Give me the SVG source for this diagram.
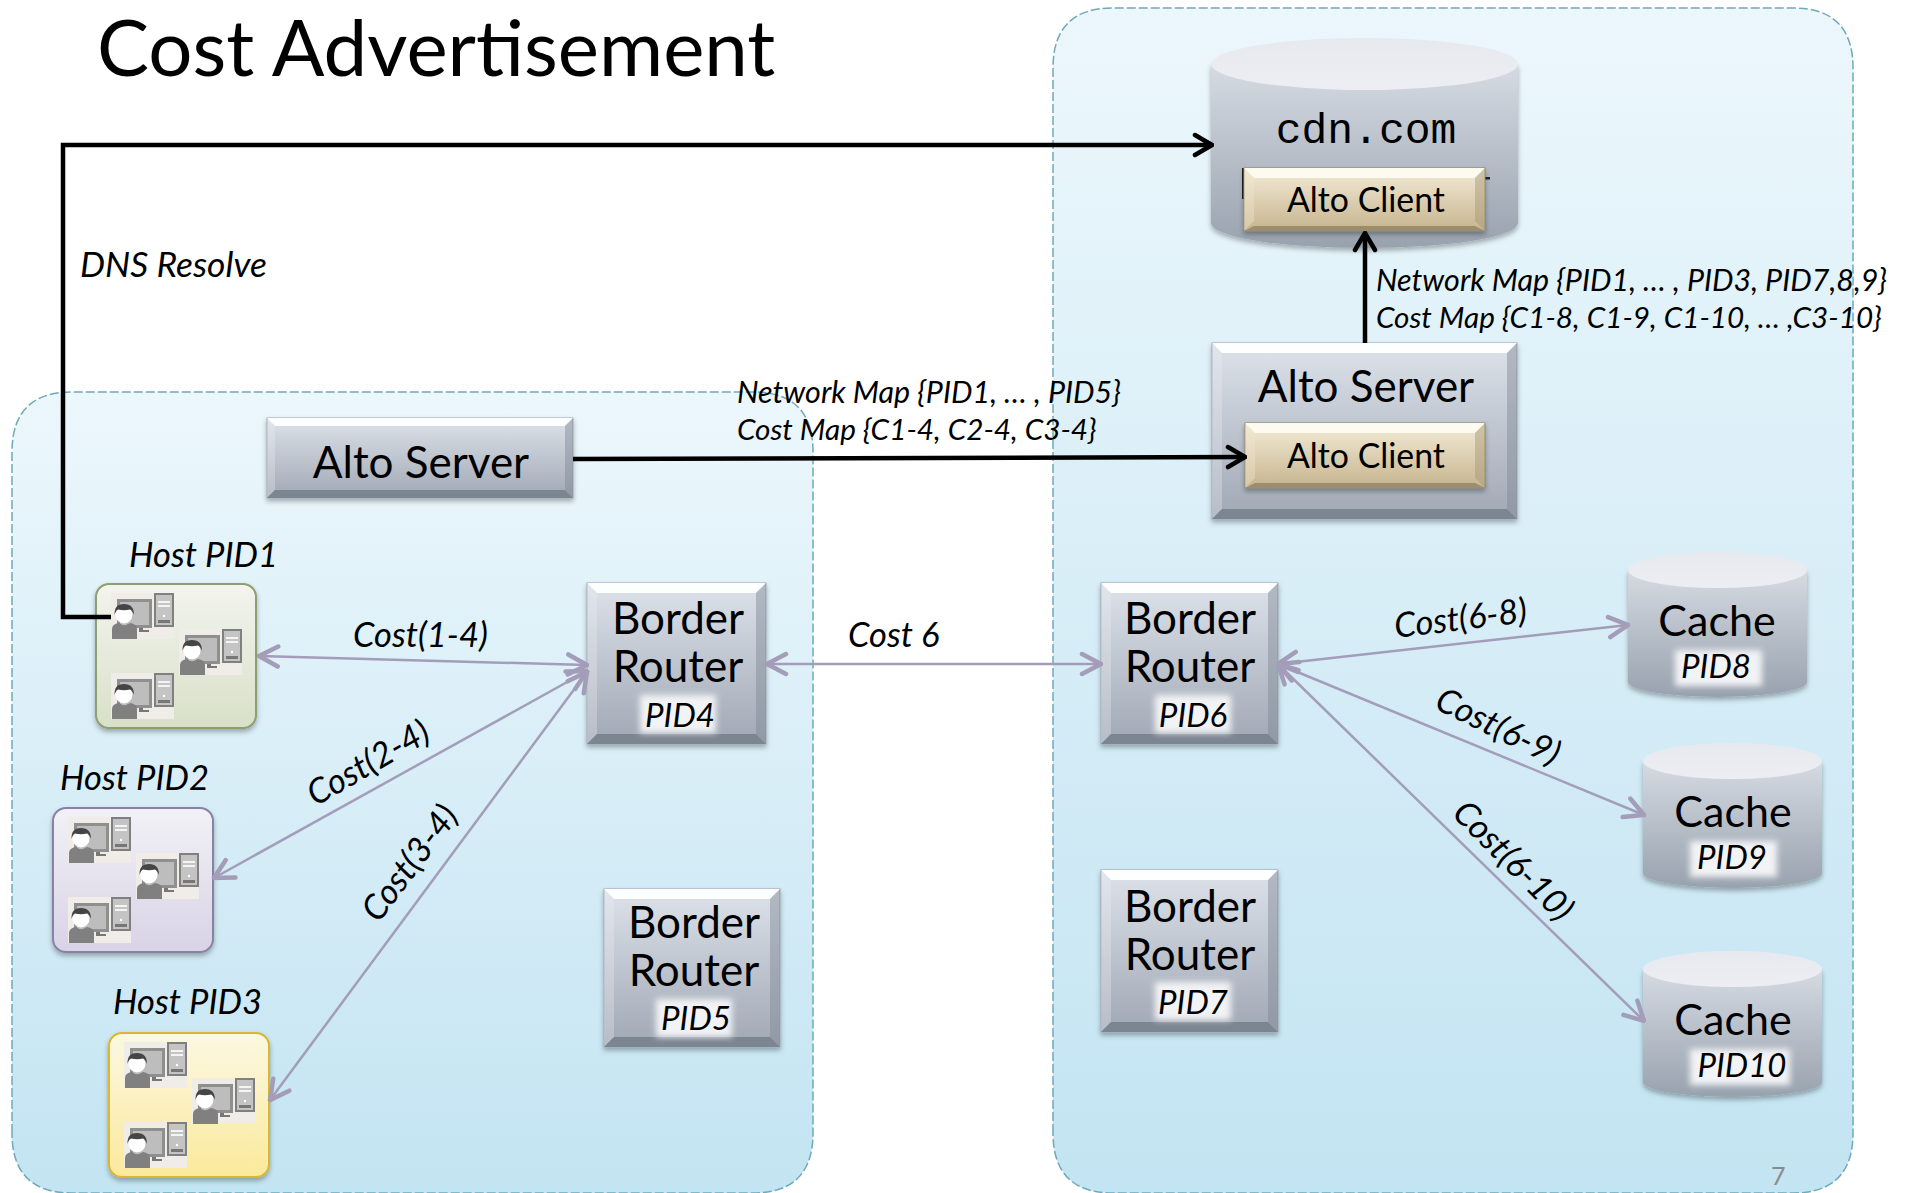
<svg xmlns="http://www.w3.org/2000/svg" width="1906" height="1193" viewBox="0 0 1906 1193">
<style>
text{font-family:Lato,"Open Sans","Liberation Sans",sans-serif;fill:#000}
.it{font-style:italic;font-size:34.5px}
.nm{font-style:italic;font-size:30.4px}
.cm{font-style:italic;font-size:29.7px}
.big{font-size:44px;text-anchor:middle}
.cache{font-size:43px;text-anchor:middle}
.pid{font-style:italic;font-size:33px;text-anchor:middle}
.ac{font-size:33.800px;text-anchor:middle}
.panel{fill:url(#panel);stroke:#6fa9ba;stroke-width:1.5;stroke-dasharray:9 3}
.k{fill:none;stroke:#000;stroke-width:4.500}
.p{fill:none;stroke:#a39db9;stroke-width:2.500}
.box{fill:url(#steel);stroke:#9aa5ad;stroke-width:1;filter:url(#sh)}
.gold{fill:url(#gold);stroke:#8c8468;stroke-width:1;filter:url(#sh)}
.side{fill:url(#cyl);filter:url(#sh)}
.top{fill:url(#cyltop)}
.lab{fill:#f2f3f5;filter:url(#soft)}
.hl{fill:#fff;opacity:.95}
.dr{fill:#7e8894;opacity:.45}
.lt{fill:#eef0f4;opacity:.3}
.bt{fill:#7c8592}
</style>
<defs>
<linearGradient id="panel" x1="0" y1="0" x2="0" y2="1"><stop offset="0" stop-color="#ecf7fc"/><stop offset="1" stop-color="#c3e4f2"/></linearGradient>
<linearGradient id="steel" x1="0" y1="0" x2="0" y2="1"><stop offset="0" stop-color="#dde2ea"/><stop offset="1" stop-color="#a0a8b4"/></linearGradient>
<linearGradient id="gold" x1="0" y1="0" x2="0" y2="1"><stop offset="0" stop-color="#f4ecd8"/><stop offset="1" stop-color="#c6b48e"/></linearGradient>
<linearGradient id="cyl" x1="0" y1="0" x2="0" y2="1"><stop offset="0" stop-color="#d6dbe3"/><stop offset="1" stop-color="#98a2ae"/></linearGradient>
<linearGradient id="cyltop" x1="0" y1="0" x2="0" y2="1"><stop offset="0" stop-color="#e6e9ee"/><stop offset="1" stop-color="#eceef3"/></linearGradient>
<linearGradient id="gh" x1="0" y1="0" x2="0" y2="1"><stop offset="0" stop-color="#f3f4ee"/><stop offset="1" stop-color="#d8e0c8"/></linearGradient>
<linearGradient id="ph" x1="0" y1="0" x2="0" y2="1"><stop offset="0" stop-color="#f2f1f6"/><stop offset="1" stop-color="#d8d3e6"/></linearGradient>
<linearGradient id="yh" x1="0" y1="0" x2="0" y2="1"><stop offset="0" stop-color="#fbf8e2"/><stop offset="1" stop-color="#fbe99a"/></linearGradient>
<filter id="sh" x="-10%" y="-10%" width="120%" height="125%"><feDropShadow dx="0" dy="3" stdDeviation="2.500" flood-color="#000" flood-opacity=".3"/></filter>
<filter id="soft" x="-20%" y="-30%" width="140%" height="160%"><feGaussianBlur stdDeviation="3"/></filter>
<marker id="ak" viewBox="0 0 22 26" refX="20" refY="13" markerWidth="22" markerHeight="26" markerUnits="userSpaceOnUse" orient="auto-start-reverse"><path d="M3 3L20 13L3 23" fill="none" stroke="#000" stroke-width="4.500" stroke-linecap="round"/></marker>
<marker id="ap" viewBox="0 0 24 26" refX="22" refY="13" markerWidth="24" markerHeight="26" markerUnits="userSpaceOnUse" orient="auto-start-reverse"><path d="M3 3L22 13L3 23" fill="none" stroke="#a39db9" stroke-width="4.500" stroke-linecap="round"/></marker>
<symbol id="hosticon" viewBox="0 0 63 46" width="63" height="46">
<rect width="63" height="46" fill="#f0ede8"/>
<rect x="6" y="6" width="35" height="29" fill="#8f8f8f"/><rect x="9" y="9" width="29" height="23" fill="#bdbdbd"/>
<rect x="28" y="35" width="4" height="3" fill="#777"/><rect x="28" y="37" width="10" height="2" fill="#777"/>
<rect x="43" y="0" width="20" height="34" fill="#808080"/><rect x="45" y="2" width="16" height="30" fill="#c4c4c4"/>
<rect x="47" y="8" width="12" height="2" fill="#f4f4f4"/><rect x="47" y="12" width="12" height="2" fill="#f4f4f4"/><circle cx="53" cy="23" r="1.200" fill="#fff"/><rect x="47" y="27" width="12" height="3" fill="#777"/>
<path d="M1 46V36Q1 31 8 30L13 33L19 30Q26 31 26 36V46Z" fill="#808080"/>
<circle cx="13" cy="22" r="8.500" fill="#fff"/>
<path d="M3.500 22Q3 11 13 11Q23 11 23 22Q21 17 19 16.500Q13 18 7 16.500Q5 17 3.500 22Z" fill="#454545"/>
</symbol>
</defs>
<rect width="1906" height="1193" fill="#fff"/>
<g id="panels">
<path id="panel-left" class="panel" d="M12 1133V452Q12 392 72 392H753Q813 392 813 452V1133Q813 1193 753 1193H72Q12 1193 12 1133Z"/>
<path id="panel-right" class="panel" d="M1053 1133V68Q1053 8 1113 8H1793Q1853 8 1853 68V1133Q1853 1193 1793 1193H1113Q1053 1193 1053 1133Z"/>
</g>
<text x="97" y="76" font-size="78">Cost Advertisement</text>

<g id="cdn">
<path class="side" d="M1211 64V223A153.500 25 0 0 0 1518 223V64Z"/>
<ellipse class="top" cx="1364.500" cy="64" rx="153.500" ry="26"/>
<text x="1366" y="143" text-anchor="middle" style="font-family:'Liberation Mono',monospace;font-size:43px">cdn.com</text>
<rect x="1242" y="168" width="2" height="31" fill="#222"/><rect x="1485" y="177" width="5" height="2.500" fill="#222"/>
<g id="cdn-client"><rect class="gold" x="1244" y="168" width="241" height="63"/>
<polygon points="1244,168 1485,168 1475,178 1254,178" fill="#fdfaf0"/><polygon points="1485,168 1485,231 1475,221 1475,178" fill="#a89c78" opacity=".5"/><polygon points="1244,168 1244,231 1254,221 1254,178" fill="#f0e6cc" opacity=".4"/><polygon points="1244,231 1485,231 1475,226 1254,226" fill="#9a8e6c"/>
<text class="ac" x="1366" y="212">Alto Client</text></g>
</g>

<g id="alto-left"><rect class="box" x="267" y="418" width="306" height="80"/>
<polygon class="hl" points="267,418 573,418 565,426 275,426"/><polygon class="dr" points="573,418 573,498 565,490 565,426"/><polygon class="lt" points="267,418 267,498 275,490 275,426"/><polygon class="bt" points="267,498 573,498 565,490 275,490"/>
<text class="big" x="421" y="478">Alto Server</text></g>

<g id="alto-right"><rect class="box" x="1212" y="343" width="305" height="176"/>
<polygon class="hl" points="1212,343 1517,343 1507,353 1222,353"/><polygon class="dr" points="1517,343 1517,519 1507,509 1507,353"/><polygon class="lt" points="1212,343 1212,519 1222,509 1222,353"/><polygon class="bt" points="1212,519 1517,519 1507,509 1222,509"/>
<text class="big" x="1366" y="402">Alto Server</text>
<g id="alto-right-client"><rect class="gold" x="1245" y="423" width="240" height="65"/>
<polygon points="1245,423 1485,423 1475,433 1255,433" fill="#fdfaf0"/><polygon points="1485,423 1485,488 1475,478 1475,433" fill="#a89c78" opacity=".5"/><polygon points="1245,423 1245,488 1255,478 1255,433" fill="#f0e6cc" opacity=".4"/><polygon points="1245,488 1485,488 1475,483 1255,483" fill="#9a8e6c"/>
<text class="ac" x="1366" y="468">Alto Client</text></g></g>

<g id="pid4"><rect class="box" x="587" y="583" width="179" height="161"/>
<polygon class="hl" points="587,583 766,583 756,593 597,593"/><polygon class="dr" points="766,583 766,744 756,734 756,593"/><polygon class="lt" points="587,583 587,744 597,734 597,593"/><polygon class="bt" points="587,744 766,744 756,734 597,734"/>
<rect class="lab" x="640" y="695" width="76" height="38"/>
<text class="big" x="678" y="634">Border</text><text class="big" x="678" y="682">Router</text><text class="pid" x="680" y="727">PID4</text></g>

<g id="pid5"><rect class="box" x="604" y="889" width="176" height="158"/>
<polygon class="hl" points="604,889 780,889 770,899 614,899"/><polygon class="dr" points="780,889 780,1047 770,1037 770,899"/><polygon class="lt" points="604,889 604,1047 614,1037 614,899"/><polygon class="bt" points="604,1047 780,1047 770,1037 614,1037"/>
<rect class="lab" x="656" y="999" width="76" height="38"/>
<text class="big" x="694" y="938">Border</text><text class="big" x="694" y="986">Router</text><text class="pid" x="696" y="1030">PID5</text></g>

<g id="pid6"><rect class="box" x="1101" y="583" width="177" height="161"/>
<polygon class="hl" points="1101,583 1278,583 1268,593 1111,593"/><polygon class="dr" points="1278,583 1278,744 1268,734 1268,593"/><polygon class="lt" points="1101,583 1101,744 1111,734 1111,593"/><polygon class="bt" points="1101,744 1278,744 1268,734 1111,734"/>
<rect class="lab" x="1155" y="695" width="76" height="38"/>
<text class="big" x="1190" y="634">Border</text><text class="big" x="1190" y="682">Router</text><text class="pid" x="1193" y="727">PID6</text></g>

<g id="pid7"><rect class="box" x="1101" y="870" width="177" height="162"/>
<polygon class="hl" points="1101,870 1278,870 1268,880 1111,880"/><polygon class="dr" points="1278,870 1278,1032 1268,1022 1268,880"/><polygon class="lt" points="1101,870 1101,1032 1111,1022 1111,880"/><polygon class="bt" points="1101,1032 1278,1032 1268,1022 1111,1022"/>
<rect class="lab" x="1155" y="982" width="76" height="38"/>
<text class="big" x="1190" y="922">Border</text><text class="big" x="1190" y="970">Router</text><text class="pid" x="1193" y="1014">PID7</text></g>

<g id="cache8"><path class="side" d="M1628 570V682A89.500 15 0 0 0 1807 682V570Z"/><ellipse class="top" cx="1717.500" cy="570" rx="89.500" ry="18"/>
<rect class="lab" x="1675" y="650" width="87" height="36"/>
<text class="cache" x="1717" y="636">Cache</text><text class="pid" x="1716" y="678">PID8</text></g>
<g id="cache9"><path class="side" d="M1643 761V873A89.500 15 0 0 0 1822 873V761Z"/><ellipse class="top" cx="1732.500" cy="761" rx="89.500" ry="18"/>
<rect class="lab" x="1690" y="841" width="87" height="36"/>
<text class="cache" x="1733" y="827">Cache</text><text class="pid" x="1732" y="869">PID9</text></g>
<g id="cache10"><path class="side" d="M1643 969V1082A89.500 15 0 0 0 1822 1082V969Z"/><ellipse class="top" cx="1732.500" cy="969" rx="89.500" ry="18"/>
<rect class="lab" x="1690" y="1049" width="100" height="36"/>
<text class="cache" x="1733" y="1035">Cache</text><text class="pid" x="1742" y="1077">PID10</text></g>

<g id="host1"><rect x="96" y="584" width="160" height="144" rx="13" fill="url(#gh)" stroke="#8c9e72" stroke-width="2" filter="url(#sh)"/>
<use href="#hosticon" x="111" y="593"/><use href="#hosticon" x="179" y="629"/><use href="#hosticon" x="111" y="673"/>
<text class="it" x="129" y="567">Host PID1</text></g>
<g id="host2"><rect x="53" y="808" width="160" height="144" rx="13" fill="url(#ph)" stroke="#8a82a6" stroke-width="2" filter="url(#sh)"/>
<use href="#hosticon" x="68" y="817"/><use href="#hosticon" x="136" y="853"/><use href="#hosticon" x="68" y="897"/>
<text class="it" x="60" y="790">Host PID2</text></g>
<g id="host3"><rect x="109" y="1033" width="160" height="144" rx="13" fill="url(#yh)" stroke="#d8b830" stroke-width="2" filter="url(#sh)"/>
<use href="#hosticon" x="124" y="1042"/><use href="#hosticon" x="192" y="1078"/><use href="#hosticon" x="124" y="1122"/>
<text class="it" x="113" y="1014">Host PID3</text></g>

<g id="connectors">
<path class="k" d="M111 617H63V145H1212" marker-end="url(#ak)"/>
<path class="k" d="M573 459L1245 457" marker-end="url(#ak)"/>
<path class="k" d="M1365 343V233" marker-end="url(#ak)"/>
<path class="p" d="M259 656L587 665" marker-start="url(#ap)" marker-end="url(#ap)"/>
<path class="p" d="M214 878L587 671" marker-start="url(#ap)" marker-end="url(#ap)"/>
<path class="p" d="M270 1100L587 672" marker-start="url(#ap)" marker-end="url(#ap)"/>
<path class="p" d="M767 664H1101" marker-start="url(#ap)" marker-end="url(#ap)"/>
<path class="p" d="M1278 664L1628 625" marker-start="url(#ap)" marker-end="url(#ap)"/>
<path class="p" d="M1278 664L1644 815" marker-start="url(#ap)" marker-end="url(#ap)"/>
<path class="p" d="M1278 664L1644 1021" marker-start="url(#ap)" marker-end="url(#ap)"/>
</g>

<g id="labels">
<text class="it" x="80" y="277" style="font-size:35.400px">DNS Resolve</text>
<text class="nm" x="737" y="403">Network Map {PID1, … , PID5}</text>
<text class="cm" x="737" y="440">Cost Map {C1-4, C2-4, C3-4}</text>
<text class="nm" x="1376" y="291">Network Map {PID1, … , PID3, PID7,8,9}</text>
<text class="cm" x="1376" y="328">Cost Map {C1-8, C1-9, C1-10, … ,C3-10}</text>
<text class="it" x="353" y="647">Cost(1-4)</text>
<text class="it" x="848" y="647">Cost 6</text>
<text class="it" text-anchor="middle" transform="translate(374 773) rotate(-30)">Cost(2-4)</text>
<text class="it" text-anchor="middle" transform="translate(419 870) rotate(-53)">Cost(3-4)</text>
<text class="it" text-anchor="middle" transform="translate(1462 630) rotate(-7)">Cost(6-8)</text>
<text class="it" text-anchor="middle" transform="translate(1493 737) rotate(26)">Cost(6-9)</text>
<text class="it" text-anchor="middle" transform="translate(1505 869) rotate(45)">Cost(6-10)</text>
<text x="1771" y="1185" font-size="25" style="fill:#8a8a8a">7</text>
</g>
</svg>
